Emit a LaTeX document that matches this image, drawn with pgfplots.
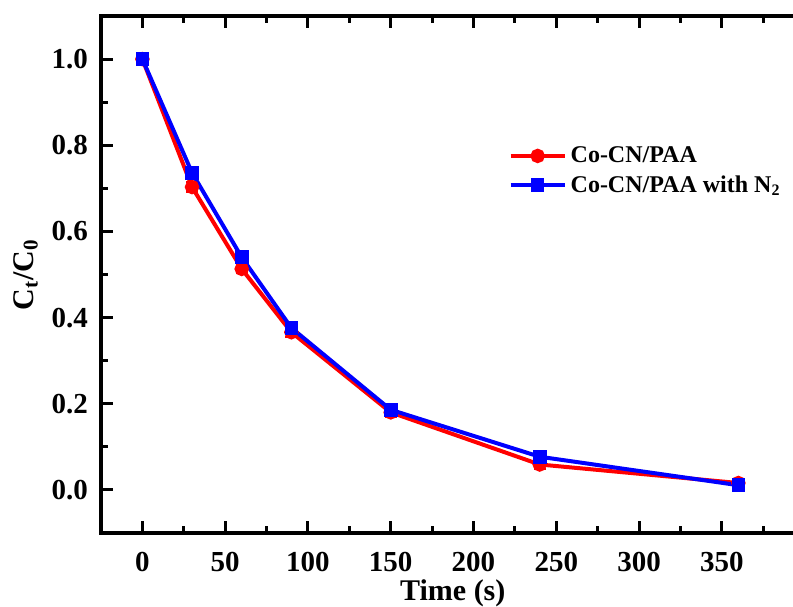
\documentclass[border=0pt]{standalone}
\usepackage{fontspec}
\setmainfont{Liberation Serif}
\usepackage{pgfplots}
\pgfplotsset{compat=1.18}

\definecolor{myred}{RGB}{255,0,0}
\definecolor{myblue}{RGB}{0,0,255}

\begin{document}
\begin{tikzpicture}
\begin{axis}[
  scale only axis,
  width=351.8pt, height=258.5pt,
  xmin=-25, xmax=400,
  ymin=-0.1, ymax=1.1,
  axis line style={line width=2pt},
  xtick={0,50,...,350},
  minor xtick={25,75,...,375},
  ytick={0,0.2,...,1.0},
  minor ytick={0.1,0.3,...,0.9},
  xtick pos=both, ytick pos=left,
  tick align=inside,
  major tick length=6pt, minor tick length=3.5pt,
  major tick style={black, line width=1.5pt},
  minor tick style={black, line width=1.5pt},
  /pgf/number format/assume math mode=true,
  /pgf/number format/.cd, fixed, fixed zerofill, precision=1, /pgfplots/.cd,
  xticklabel={\pgfmathprintnumber[fixed,precision=0]{\tick}},
  tick label style={font=\fontsize{14.5}{17}\selectfont\bfseries},
  xticklabel style={yshift=-6pt},
  yticklabel style={xshift=-3pt},
  xlabel={Time (s)},
  ylabel={C\textsubscript{t}/C\textsubscript{0}},
  label style={font=\fontsize{15}{18}\selectfont\bfseries},
  xlabel style={yshift=3pt},
  legend style={draw=none, fill=none, at={(rel axis cs:0.576,0.76)}, anchor=north west,
    font=\fontsize{12}{14}\selectfont\bfseries, row sep=1pt, inner sep=1pt},
  legend cell align=left,
  legend image code/.code={
    \draw[#1, mark repeat=2, mark phase=2] plot coordinates {(0pt,0pt) (13.5pt,0pt) (27pt,0pt)};
  },
]
\path (rel axis cs:0,0) coordinate (bl) (rel axis cs:1,1) coordinate (tr);

\addplot[myred, line width=2pt, mark=*, mark size=2.6pt,
  error bars/.cd, y dir=both, y explicit,
  error bar style={line width=1pt, myred}, error mark options={rotate=90, mark size=3pt, line width=1pt}]
  coordinates {
  (0,1.0) +- (0,0.004)
  (30,0.703) +- (0,0.012)
  (60,0.513) +- (0,0.01)
  (90,0.366) +- (0,0.012)
  (150,0.180) +- (0,0.01)
  (240,0.059) +- (0,0.01)
  (360,0.016) +- (0,0.01)
  };
\addlegendentry{Co-CN/PAA}

\addplot[myblue, line width=2pt, mark=square*, mark size=2.4pt,
  error bars/.cd, y dir=both, y explicit,
  error bar style={line width=1pt, myblue}, error mark options={rotate=90, mark size=3pt, line width=1pt}]
  coordinates {
  (0,1.0) +- (0,0.004)
  (30,0.736) +- (0,0.006)
  (60,0.540) +- (0,0.006)
  (90,0.376) +- (0,0.008)
  (150,0.186) +- (0,0.008)
  (240,0.077) +- (0,0.005)
  (360,0.011) +- (0,0.005)
  };
\addlegendentry{Co-CN/PAA with N\textsubscript{2}}
\end{axis}
\pgfresetboundingbox
\path ([xshift=-50.5pt,yshift=-36.5pt]bl) rectangle ([xshift=-5.8pt,yshift=8pt]tr);
\end{tikzpicture}
\end{document}
